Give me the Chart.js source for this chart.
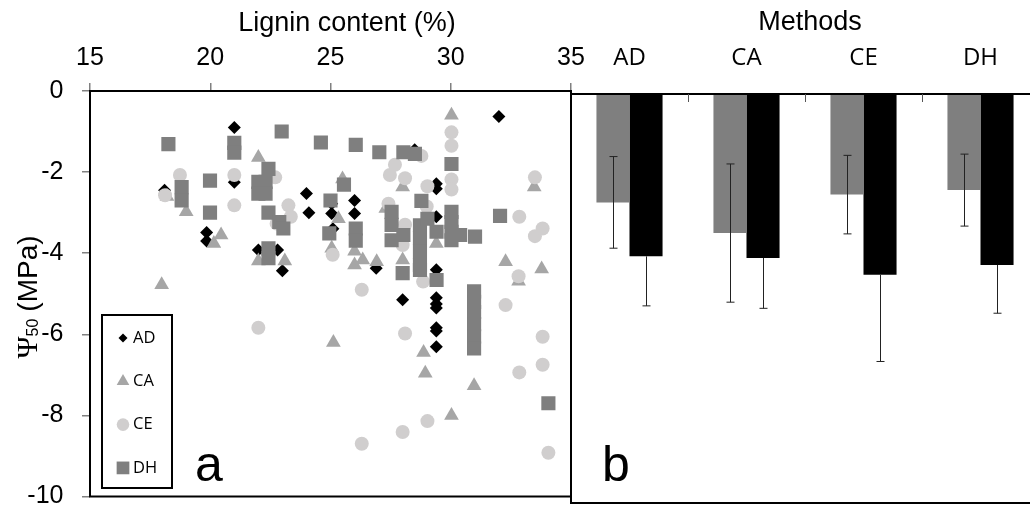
<!DOCTYPE html>
<html>
<head>
<meta charset="utf-8">
<script src="https://cdn.jsdelivr.net/npm/chart.js"></script>
<style>
    html, body {
        margin: 0;
        padding: 0;
        background: #fff;
        overflow: hidden;
        width: 1030px;
        height: 509px;
    }
    canvas {
        position: absolute;
        top: 0;
    }
    #scatter { left: 0; }
    #bars { left: 540px; }
</style>
</head>
<body>
<canvas id="scatter" width="600" height="530"></canvas>
<canvas id="bars" width="520" height="530"></canvas>
<script>
// Panel a: [lignin %, P50 MPa] per method
const adPoints = [
    [18.1, -2.45], [21.0, -0.9], [21.0, -2.25], [24.0, -2.53], [24.1, -3.0],
    [19.85, -3.49], [19.85, -3.7], [22.0, -3.92], [22.8, -3.92], [23.0, -4.43],
    [25.05, -2.78], [25.05, -3.02], [25.1, -3.4], [26.0, -2.7], [26.0, -3.02],
    [26.9, -4.37], [28.5, -1.45], [29.4, -2.29], [29.4, -2.41], [29.4, -3.1],
    [29.4, -4.41], [32.0, -0.63], [28.0, -5.15], [29.4, -5.1], [29.4, -5.25],
    [29.4, -5.35], [29.4, -5.84], [29.4, -5.92], [29.4, -6.31],
];
const caPoints = [
    [17.98, -4.78], [18.2, -2.6], [19.0, -2.98], [20.45, -3.55], [20.15, -3.76],
    [22.0, -1.64], [22.0, -4.19], [23.1, -4.19], [25.05, -3.88], [25.33, -3.15],
    [25.5, -2.17], [25.12, -6.2], [26.0, -3.95], [26.0, -4.29], [26.34, -4.17],
    [26.92, -4.21], [27.3, -2.9], [28.0, -2.37], [28.0, -4.17], [28.87, -6.45],
    [28.94, -6.96], [29.4, -3.76], [30.03, -0.6], [30.97, -7.27], [30.03, -8.0],
    [32.28, -4.21], [32.82, -4.69], [33.47, -2.37], [33.78, -4.39],
];
const cePoints = [
    [18.12, -2.57], [18.74, -2.07], [21.0, -2.07], [21.0, -2.82], [22.0, -5.84],
    [22.7, -2.13], [22.76, -3.27], [23.25, -2.82], [23.35, -3.1], [25.09, -4.04],
    [26.3, -4.9], [26.3, -8.7], [27.41, -2.78], [27.47, -2.07], [27.68, -1.82],
    [28.0, -3.8], [28.1, -3.3], [28.1, -2.15], [28.1, -5.98], [28.0, -8.41],
    [28.78, -1.6], [29.0, -2.85], [29.03, -2.35], [28.85, -4.7], [29.03, -8.14],
    [30.03, -1.02], [30.03, -1.35], [30.03, -2.18], [30.03, -2.43], [32.28, -5.28],
    [32.82, -4.57], [32.85, -3.1], [32.85, -6.94], [33.5, -2.13], [33.5, -3.58],
    [33.82, -3.39], [33.82, -6.06], [33.82, -6.75], [34.06, -8.92],
];
const dhPoints = [
    [18.26, -1.31], [18.81, -2.37], [18.81, -2.7], [19.99, -2.21], [19.99, -3.0],
    [21.0, -1.28], [21.0, -1.52], [22.0, -2.24], [22.3, -2.24], [22.0, -2.53],
    [22.3, -2.53], [22.42, -1.92], [22.42, -3.0], [22.42, -3.88], [22.42, -4.12],
    [22.87, -3.23], [23.04, -3.39], [22.97, -1.0], [24.6, -1.27], [25.0, -2.7],
    [24.95, -3.51], [25.56, -2.31], [26.05, -1.33], [26.05, -3.39], [26.05, -3.69],
    [27.03, -1.51], [27.54, -2.98], [27.54, -3.3], [27.54, -3.68], [28.03, -1.51],
    [28.03, -3.55], [28.0, -4.49], [28.51, -1.55], [28.72, -3.31], [28.72, -3.63],
    [28.72, -3.96], [28.72, -4.29], [28.72, -4.41], [28.78, -2.71], [29.03, -3.15],
    [29.41, -3.47], [29.41, -4.66], [30.03, -1.8], [30.03, -2.98], [30.03, -3.23],
    [30.03, -3.47], [30.03, -3.68], [30.39, -3.55], [31.01, -3.59], [30.97, -4.94],
    [30.97, -5.2], [30.97, -5.45], [30.97, -5.75], [30.97, -6.05], [30.97, -6.35],
    [32.05, -3.08], [34.06, -7.7],
];
const ligninRange = [15, 35];
const psiRange = [-10, 0];

// Panel b: means and SD per method
const methods = ["AD", "CA", "CE", "DH"];
const meanGrey = [-2.65, -3.40, -2.46, -2.35];
const sdGrey = [1.12, 1.69, 0.96, 0.88];
const meanBlack = [-3.97, -4.01, -4.42, -4.18];
const sdBlack = [1.21, 1.23, 2.12, 1.18];

const SANS = "Liberation Sans";
const legendRadius = { rectRot: 4.5, triangle: 7.3, circle: 6.3, rect: 9 };

function series(label, points, style, radius, color, order) {
    return {
        label: label,
        data: points.map((p) => ({ x: p[0], y: p[1] })),
        pointStyle: style,
        pointRadius: radius,
        pointBackgroundColor: color,
        pointBorderColor: color,
        pointBorderWidth: 0,
        order: order,
    };
}

const frame = {
    id: "frame",
    afterDatasetsDraw(chart) {
        const { ctx, chartArea: a } = chart;
        ctx.save();
        ctx.strokeStyle = "#000";
        ctx.lineWidth = 2;
        ctx.strokeRect(a.left, a.top, a.right - a.left, a.bottom - a.top);
        ctx.restore();
    },
};

const scatterText = {
    id: "scatterText",
    afterDraw(chart) {
        const ctx = chart.ctx;
        ctx.save();
        ctx.fillStyle = "#000";
        ctx.textBaseline = "alphabetic";

        ctx.font = `27px "${SANS}"`;
        ctx.textAlign = "center";
        ctx.fillText("Lignin content (%)", 347, 31);

        // rotated y title with subscript
        ctx.textAlign = "left";
        const psiFont = `30px "Liberation Serif"`;
        const subFont = `16px "${SANS}"`;
        const restFont = `28px "${SANS}"`;
        const gap = 7;
        ctx.font = psiFont;
        const w1 = ctx.measureText("\u03A8").width;
        ctx.font = subFont;
        const w2 = ctx.measureText("50").width;
        ctx.font = restFont;
        const w3 = ctx.measureText("(MPa)").width;
        const total = w1 + w2 + gap + w3;
        ctx.translate(37, 297);
        ctx.rotate(-Math.PI / 2);
        let x = -total / 2;
        ctx.font = psiFont;
        ctx.fillText("\u03A8", x, 0);
        x += w1;
        ctx.font = subFont;
        ctx.fillText("50", x, 1);
        x += w2 + gap;
        ctx.font = restFont;
        ctx.fillText("(MPa)", x, 0);
        ctx.setTransform(1, 0, 0, 1, 0, 0);

        ctx.font = `50px "${SANS}"`;
        ctx.fillText("a", 195, 481);

        // legend box
        ctx.strokeStyle = "#000";
        ctx.lineWidth = 2;
        ctx.strokeRect(102, 315, 70, 173);
        ctx.font = `16.5px "Open Sans"`;
        ctx.textBaseline = "middle";
        chart.data.datasets.forEach((ds, i) => {
            const y = 338 + i * 43.3;
            ctx.fillStyle = ds.pointBackgroundColor;
            Chart.helpers.drawPoint(ctx, {
                pointStyle: ds.pointStyle,
                radius: legendRadius[ds.pointStyle],
                rotation: 0,
                borderWidth: 0,
            }, 123, y);
            ctx.fillStyle = "#000";
            ctx.fillText(ds.label, 133, y);
        });
        ctx.restore();
    },
};

const errorBars = {
    id: "errorBars",
    afterDatasetsDraw(chart) {
        const ctx = chart.ctx;
        const yScale = chart.scales.y;
        ctx.save();
        ctx.strokeStyle = "#222";
        ctx.lineWidth = 1;
        chart.data.datasets.forEach((ds, i) => {
            chart.getDatasetMeta(i).data.forEach((bar, j) => {
                const v = ds.data[j];
                const e = ds.errors[j];
                const bx = Math.round(bar.x) + 0.5;
                const lo = yScale.getPixelForValue(v - e);
                const hi = ds.bothSides ? yScale.getPixelForValue(v + e) : bar.y;
                ctx.beginPath();
                ctx.moveTo(bx, hi);
                ctx.lineTo(bx, lo);
                ctx.moveTo(bx - 4, lo);
                ctx.lineTo(bx + 4, lo);
                if (ds.bothSides) {
                    ctx.moveTo(bx - 4, hi);
                    ctx.lineTo(bx + 4, hi);
                }
                ctx.stroke();
            });
        });
        ctx.restore();
    },
};

const barText = {
    id: "barText",
    afterDraw(chart) {
        const ctx = chart.ctx;
        const xScale = chart.scales.x;
        const top = chart.chartArea.top;
        ctx.save();
        // short inward marks between method groups
        ctx.strokeStyle = "#555";
        ctx.lineWidth = 1;
        const half = (xScale.getPixelForValue(1) - xScale.getPixelForValue(0)) / 2;
        for (let i = 0; i < methods.length - 1; ++i) {
            const px = Math.round(xScale.getPixelForValue(i) + half) + 0.5;
            ctx.beginPath();
            ctx.moveTo(px, top);
            ctx.lineTo(px, top + 8);
            ctx.stroke();
        }
        ctx.fillStyle = "#000";
        ctx.textBaseline = "alphabetic";
        ctx.font = `27px "${SANS}"`;
        ctx.textAlign = "center";
        ctx.fillText("Methods", 270, 30);
        ctx.textAlign = "left";
        ctx.font = `50px "${SANS}"`;
        ctx.fillText("b", 62, 481);
        ctx.restore();
    },
};

function main() {
    const tickFont = { family: SANS, size: 25 };
    const tickGrid = {
        drawOnChartArea: false,
        tickLength: 8,
        color: "#808080",
        lineWidth: 1.5,
    };

    new Chart(document.getElementById("scatter"), {
        type: "scatter",
        data: {
            datasets: [
                series("AD", adPoints, "rectRot", 6.5, "#000000", 3),
                series("CA", caPoints, "triangle", 8.5, "#a6a6a6", 2),
                series("CE", cePoints, "circle", 7, "#d0cece", 1),
                series("DH", dhPoints, "rect", 10, "#7f7f7f", 0),
            ],
        },
        options: {
            responsive: false,
            animation: false,
            layout: { padding: { top: 0, left: 0, right: 29, bottom: 30 } },
            plugins: {
                legend: { display: false },
                tooltip: { enabled: false },
            },
            scales: {
                x: {
                    type: "linear",
                    position: "top",
                    min: ligninRange[0],
                    max: ligninRange[1],
                    ticks: {
                        stepSize: 5,
                        color: "#000",
                        font: tickFont,
                        padding: 10,
                    },
                    grid: tickGrid,
                    border: { display: false },
                    afterFit: (s) => {
                        s.height = 91;
                    },
                },
                y: {
                    type: "linear",
                    min: psiRange[0],
                    max: psiRange[1],
                    ticks: {
                        stepSize: 2,
                        color: "#000",
                        font: tickFont,
                        padding: 18.5,
                    },
                    grid: tickGrid,
                    border: { display: false },
                    afterFit: (s) => {
                        s.width = 90;
                    },
                },
            },
        },
        plugins: [frame, scatterText],
    });

    new Chart(document.getElementById("bars"), {
        type: "bar",
        data: {
            labels: methods,
            datasets: [
                {
                    label: "grey",
                    data: meanGrey,
                    errors: sdGrey,
                    bothSides: true,
                    backgroundColor: "#7f7f7f",
                    borderWidth: 0,
                },
                {
                    label: "black",
                    data: meanBlack,
                    errors: sdBlack,
                    bothSides: false,
                    backgroundColor: "#000000",
                    borderWidth: 0,
                },
            ],
        },
        options: {
            responsive: false,
            animation: false,
            layout: { padding: { top: 0, left: 31, right: 21, bottom: 27 } },
            datasets: {
                bar: { categoryPercentage: 0.565, barPercentage: 1.0 },
            },
            plugins: {
                legend: { display: false },
                tooltip: { enabled: false },
            },
            scales: {
                x: {
                    position: "top",
                    ticks: {
                        color: "#000",
                        font: { family: "Open Sans", size: 24 },
                        padding: 21,
                    },
                    grid: { display: false, drawTicks: false },
                    border: { display: false },
                    afterFit: (s) => {
                        s.height = 94;
                    },
                },
                y: {
                    display: false,
                    min: psiRange[0],
                    max: psiRange[1],
                },
            },
        },
        plugins: [frame, errorBars, barText],
    });
}

main();
</script>
</body>
</html>
